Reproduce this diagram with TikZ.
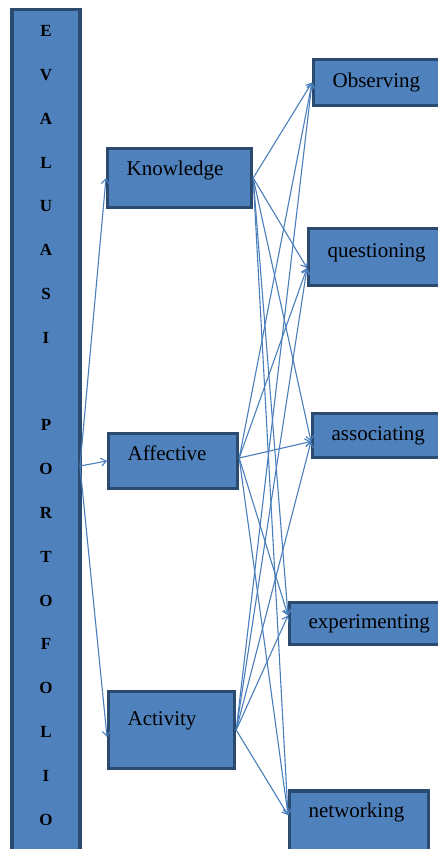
\documentclass[tikz,border=0pt]{standalone}
\usepackage{fontspec}
\setmainfont{Liberation Serif}
\usepackage{xcolor}
\usetikzlibrary{arrows.meta}

\definecolor{boxfill}{HTML}{4F81BD}
\definecolor{boxline}{HTML}{2B4A70}
\definecolor{arrowline}{HTML}{4A7EBB}

\begin{document}
\begin{tikzpicture}[x=1pt, y=-1pt,
        box/.style={rectangle, draw=boxline, fill=boxfill, line width=3.2pt, anchor=west, inner xsep=19pt, inner ysep=0pt, align=left, font=\fontsize{21}{25}\selectfont, text height=14pt, text depth=4pt},
        link/.style={draw=arrowline, line width=1.1pt, -{Straight Barb[length=5pt,width=8pt]}}
    ]
        \clip (0,0) rectangle (438,849);

        % Evaluasi column
        \node[box, anchor=north, minimum width=68pt, minimum height=880pt] (evalbox) at (46,8) {};
        \node[font=\bfseries\fontsize{17}{43.8}\selectfont, align=center] (evaltext) at (46,425.5) {E\\V\\A\\L\\U\\A\\S\\I\\[43.8pt]P\\O\\R\\T\\O\\F\\O\\L\\I\\O};
        \coordinate (hub) at (80,466);

        % Aspects
        \node[box, text width=106pt, minimum height=59pt, text depth=20pt] (knowledge) at (106,178) {Knowledge};
        \node[box, text width=91pt, minimum height=55pt, text depth=16pt] (affective) at (107,461) {Affective};
        \node[box, text width=88pt, minimum height=77pt, text depth=24pt] (activity) at (107,730) {Activity};

        % Steps
        \node[box, text width=120pt, minimum height=46pt] (observing) at (312,82.5) {Observing};
        \node[box, text width=120pt, minimum height=57pt, text depth=14pt] (questioning) at (307,257) {questioning};
        \node[box, text width=120pt, minimum height=44pt] (associating) at (311,435.5) {associating};
        \node[box, text width=135pt, minimum height=42pt] (experimenting) at (288,623.5) {experimenting};
        \node[box, text width=101pt, minimum height=90pt, text depth=52pt] (networking) at (288,836) {networking};

        \coordinate (obs-in) at (observing.west);
        \coordinate (que-in) at ([yshift=-11pt]questioning.west);
        \coordinate (assoc-in) at ([yshift=-6pt]associating.west);
        \coordinate (exp-in) at ([yshift=8pt]experimenting.west);
        \coordinate (net-in) at ([yshift=21pt]networking.west);
        \coordinate (aff-out) at ([yshift=3pt]affective.east);

        % Column to aspects
        \draw[link] (hub) -- (knowledge.west);
        \draw[link] (hub) -- (affective.west);
        \draw[link] (hub) -- ([yshift=-7pt]activity.west);

        % Knowledge to steps
        \draw[link] (knowledge.east) -- (obs-in);
        \draw[link] (knowledge.east) -- (que-in);
        \draw[link] (knowledge.east) -- (assoc-in);
        \draw[link] (knowledge.east) -- (exp-in);
        \draw[link] (knowledge.east) -- (net-in);

        % Affective to steps
        \draw[link] (aff-out) -- (obs-in);
        \draw[link] (aff-out) -- (que-in);
        \draw[link] (aff-out) -- (assoc-in);
        \draw[link] (aff-out) -- (exp-in);
        \draw[link] (aff-out) -- (net-in);

        % Activity to steps
        \draw[link] (activity.east) -- (obs-in);
        \draw[link] (activity.east) -- (que-in);
        \draw[link] (activity.east) -- (assoc-in);
        \draw[link] (activity.east) -- (exp-in);
        \draw[link] (activity.east) -- (net-in);
    \end{tikzpicture}
\end{document}
